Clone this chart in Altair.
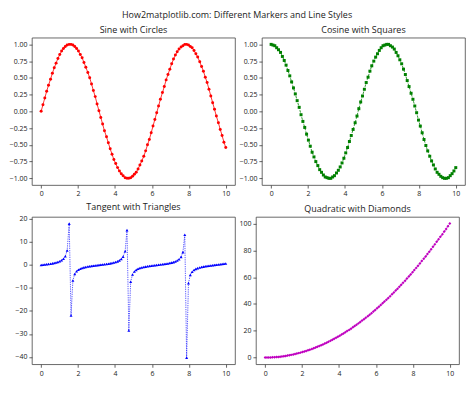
import altair as alt
import pandas as pd

x = [0.00, 0.10, 0.20, 0.30, 0.40, 0.51, 0.61, 0.71, 0.81, 0.91,
     1.01, 1.11, 1.21, 1.31, 1.41, 1.52, 1.62, 1.72, 1.82, 1.92,
     2.02, 2.12, 2.22, 2.32, 2.42, 2.53, 2.63, 2.73, 2.83, 2.93,
     3.03, 3.13, 3.23, 3.33, 3.43, 3.54, 3.64, 3.74, 3.84, 3.94,
     4.04, 4.14, 4.24, 4.34, 4.44, 4.55, 4.65, 4.75, 4.85, 4.95,
     5.05, 5.15, 5.25, 5.35, 5.45, 5.56, 5.66, 5.76, 5.86, 5.96,
     6.06, 6.16, 6.26, 6.36, 6.46, 6.57, 6.67, 6.77, 6.87, 6.97,
     7.07, 7.17, 7.27, 7.37, 7.47, 7.58, 7.68, 7.78, 7.88, 7.98,
     8.08, 8.18, 8.28, 8.38, 8.48, 8.59, 8.69, 8.79, 8.89, 8.99,
     9.09, 9.19, 9.29, 9.39, 9.49, 9.60, 9.70, 9.80, 9.90, 10.00]

sine_y = [0.00, 0.10, 0.20, 0.30, 0.39, 0.48, 0.57, 0.65, 0.72, 0.79,
          0.85, 0.90, 0.94, 0.97, 0.99, 1.00, 1.00, 0.99, 0.97, 0.94,
          0.90, 0.85, 0.80, 0.73, 0.66, 0.58, 0.50, 0.41, 0.31, 0.22,
          0.11, 0.01, -0.09, -0.19, -0.29, -0.38, -0.47, -0.56, -0.64, -0.72,
          -0.78, -0.84, -0.89, -0.93, -0.96, -0.99, -1.00, -1.00, -0.99, -0.97,
          -0.94, -0.91, -0.86, -0.80, -0.74, -0.67, -0.59, -0.50, -0.42, -0.32,
          -0.22, -0.12, -0.02, 0.08, 0.18, 0.28, 0.37, 0.47, 0.55, 0.63,
          0.71, 0.78, 0.84, 0.89, 0.93, 0.96, 0.98, 1.00, 1.00, 0.99,
          0.97, 0.95, 0.91, 0.86, 0.81, 0.74, 0.67, 0.60, 0.51, 0.43,
          0.33, 0.23, 0.13, 0.03, -0.07, -0.17, -0.27, -0.36, -0.46, -0.54]

cosine_y = [1.00, 0.99, 0.98, 0.95, 0.92, 0.88, 0.82, 0.76, 0.69, 0.61,
            0.53, 0.44, 0.35, 0.26, 0.16, 0.06, -0.05, -0.15, -0.24, -0.34,
            -0.43, -0.52, -0.61, -0.68, -0.75, -0.81, -0.87, -0.91, -0.95, -0.98,
            -0.99, -1.00, -1.00, -0.98, -0.96, -0.92, -0.88, -0.83, -0.77, -0.70,
            -0.62, -0.54, -0.45, -0.36, -0.27, -0.17, -0.07, 0.04, 0.14, 0.23,
            0.33, 0.43, 0.51, 0.60, 0.68, 0.75, 0.81, 0.86, 0.91, 0.95,
            0.98, 0.99, 1.00, 1.00, 0.98, 0.96, 0.93, 0.88, 0.83, 0.77,
            0.71, 0.63, 0.55, 0.46, 0.37, 0.27, 0.18, 0.08, -0.02, -0.13,
            -0.22, -0.32, -0.42, -0.51, -0.59, -0.67, -0.74, -0.80, -0.86, -0.91,
            -0.94, -0.97, -0.99, -1.00, -1.00, -0.99, -0.96, -0.93, -0.89, -0.84]

tangent_y = [0.00, 0.10, 0.20, 0.31, 0.43, 0.55, 0.69, 0.85, 1.05, 1.28,
             1.59, 2.02, 2.67, 3.79, 6.30, 17.96, -22.00, -6.77, -3.96, -2.76,
             -2.08, -1.63, -1.31, -1.07, -0.88, -0.71, -0.57, -0.45, -0.33, -0.23,
             -0.11, -0.01, 0.09, 0.19, 0.30, 0.42, 0.54, 0.68, 0.84, 1.03,
             1.26, 1.56, 1.97, 2.58, 3.63, 5.93, 15.16, -28.50, -7.30, -4.14,
             -2.85, -2.13, -1.67, -1.34, -1.09, -0.89, -0.73, -0.58, -0.46, -0.34,
             -0.23, -0.12, -0.02, 0.08, 0.18, 0.29, 0.40, 0.53, 0.66, 0.82,
             1.00, 1.23, 1.52, 1.92, 2.51, 3.50, 5.58, 13.10, -40.30, -7.90,
             -4.33, -2.94, -2.19, -1.71, -1.37, -1.11, -0.91, -0.74, -0.60, -0.47,
             -0.35, -0.24, -0.13, -0.03, 0.07, 0.17, 0.28, 0.39, 0.51, 0.65]

quadratic_y = [0.00, 0.01, 0.04, 0.09, 0.16, 0.26, 0.37, 0.50, 0.65, 0.83,
               1.02, 1.23, 1.47, 1.72, 2.00, 2.30, 2.61, 2.95, 3.31, 3.68,
               4.08, 4.50, 4.94, 5.40, 5.88, 6.38, 6.90, 7.44, 8.00, 8.58,
               9.18, 9.81, 10.45, 11.11, 11.79, 12.50, 13.22, 13.97, 14.73, 15.52,
               16.32, 17.15, 18.00, 18.87, 19.75, 20.66, 21.59, 22.54, 23.51, 24.50,
               25.51, 26.54, 27.59, 28.66, 29.75, 30.86, 32.00, 33.15, 34.32, 35.52,
               36.73, 37.97, 39.22, 40.50, 41.79, 43.11, 44.44, 45.80, 47.18, 48.58,
               49.99, 51.43, 52.89, 54.37, 55.87, 57.39, 58.93, 60.49, 62.08, 63.68,
               65.30, 66.94, 68.61, 70.29, 71.99, 73.72, 75.46, 77.23, 79.01, 80.82,
               82.64, 84.49, 86.36, 88.25, 90.15, 92.08, 94.03, 96.00, 97.99, 100.00]

x_ticks = [0, 2, 4, 6, 8, 10]
trig_ticks = [-1.00, -0.75, -0.50, -0.25, 0.00, 0.25, 0.50, 0.75, 1.00]
tan_ticks = [-40, -30, -20, -10, 0, 10, 20]
quad_ticks = [0, 20, 40, 60, 80, 100]

FONT = "Open Sans"
W, H = 204, 148


def panel(y, title, color, shape, ydomain, yticks, yfmt, dash=None):
    df = pd.DataFrame({"x": x, "y": y})
    xenc = alt.X("x:Q",
                 scale=alt.Scale(domain=[-0.5, 10.5], nice=False, zero=False),
                 axis=alt.Axis(values=x_ticks, title=None, format="d"))
    yenc = alt.Y("y:Q",
                 scale=alt.Scale(domain=ydomain, nice=False, zero=False),
                 axis=alt.Axis(values=yticks, title=None, format=yfmt))
    base = alt.Chart(df).encode(x=xenc, y=yenc)
    line_kw = dict(color=color, strokeWidth=0.8)
    if dash is not None:
        line_kw["strokeDash"] = dash
    line = base.mark_line(**line_kw)
    pts = base.mark_point(shape=shape, filled=True, color=color, size=9, opacity=1)
    return alt.layer(line, pts).properties(
        width=W, height=H,
        title=alt.TitleParams(title, fontSize=9, font=FONT, fontWeight="normal",
                              color="#222", offset=3))


p1 = panel(sine_y, "Sine with Circles", "#ff0000", "circle", [-1.1, 1.1], trig_ticks, ".2f")
p2 = panel(cosine_y, "Cosine with Squares", "#008000", "square", [-1.1, 1.1], trig_ticks, ".2f",
           dash=[2.5, 1.2])
p3 = panel(tangent_y, "Tangent with Triangles", "#0000ff", "triangle-up", [-43.2, 20.9], tan_ticks, "d",
           dash=[0.8, 1.0])
p4 = panel(quadratic_y, "Quadratic with Diamonds", "#bf00bf", "diamond", [-5, 105], quad_ticks, "d",
           dash=[3.5, 1.0, 0.8, 1.0])

chart = alt.vconcat(
    alt.hconcat(p1, p2, spacing=2),
    alt.hconcat(p3, p4, spacing=2),
    spacing=4,
).properties(
    title=alt.TitleParams("How2matplotlib.com: Different Markers and Line Styles",
                          fontSize=9, font=FONT, fontWeight="normal", color="#222",
                          anchor="middle", offset=5),
    padding={"left": 0, "top": 2, "right": 0, "bottom": 0},
).configure_view(
    stroke="#444", strokeWidth=0.8
).configure_axis(
    grid=False, domain=False, labelFont=FONT, labelFontSize=7, labelColor="#222",
    tickColor="#222", tickSize=3, tickWidth=0.7, labelPadding=2
)

chart.save("out.html", embed_options={"renderer": "svg", "actions": False})
